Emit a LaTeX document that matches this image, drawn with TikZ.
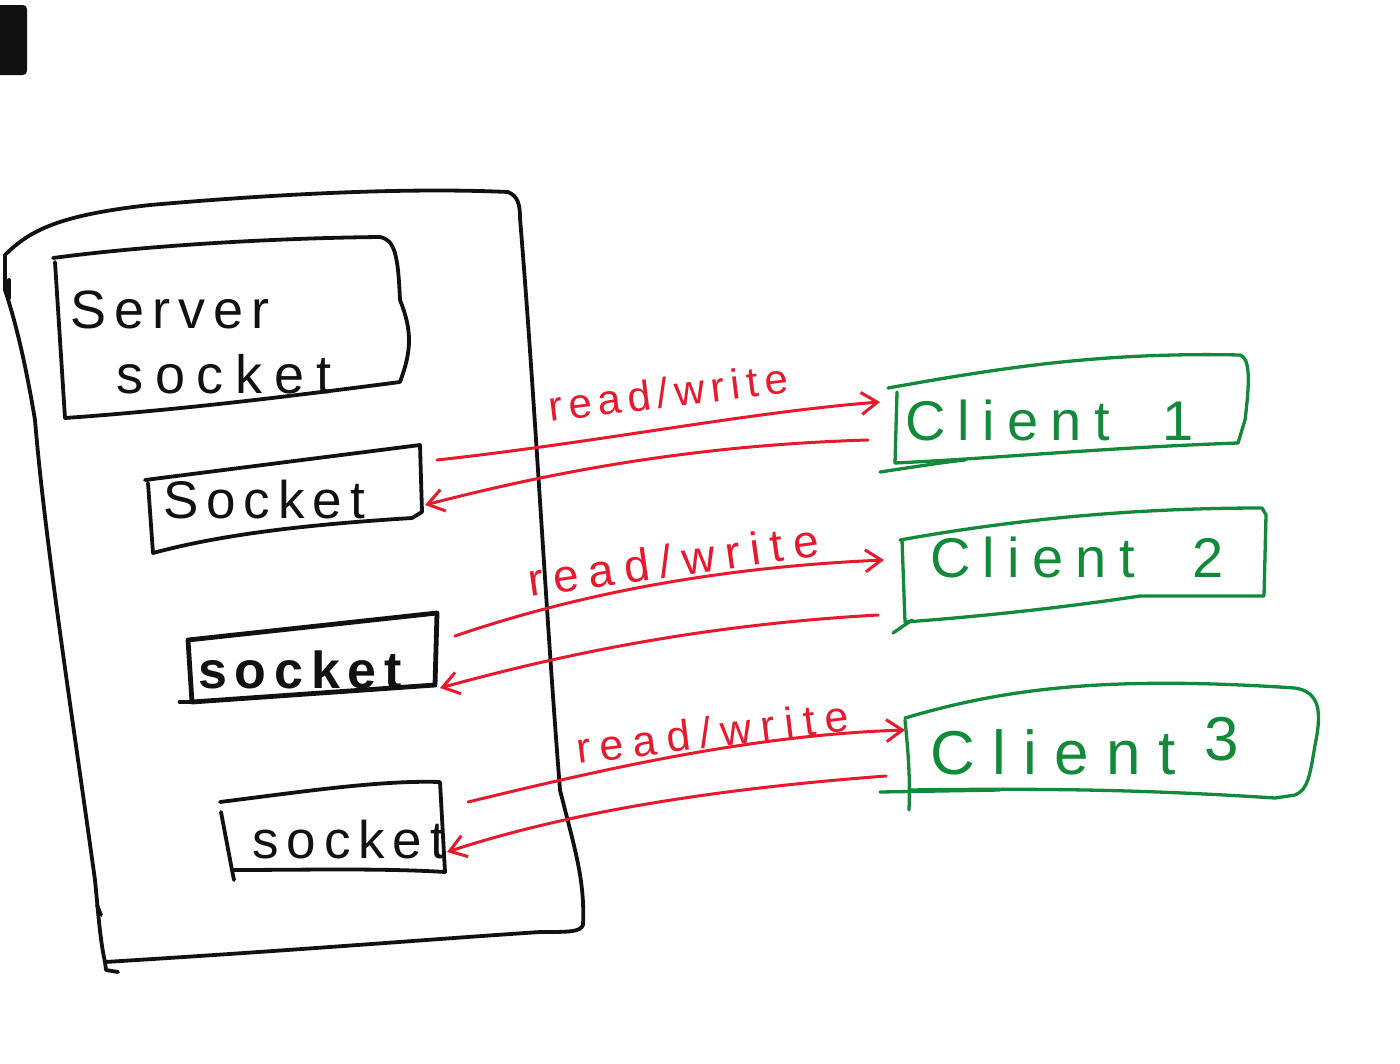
\documentclass[tikz,border=0pt]{standalone}
\usepackage{fontspec}
\setmainfont{Liberation Sans}
\newfontfamily\hand[LetterSpace=15]{Liberation Sans}
\newfontfamily\handwide[LetterSpace=22]{Liberation Sans}
\newfontfamily\handwider[LetterSpace=28]{Liberation Sans}
\usetikzlibrary{arrows.meta}
\definecolor{pen}{HTML}{111111}
\definecolor{redpen}{HTML}{E8192C}
\definecolor{greenpen}{HTML}{13893A}
\tikzset{
  blackline/.style={draw=pen, line width=3.8pt, line cap=round, line join=round},
  greenline/.style={draw=greenpen, line width=3.3pt, line cap=round, line join=round},
  redline/.style={draw=redpen, line width=3pt, line cap=round, line join=round,
     -{Straight Barb[length=16pt,width=22pt,line width=3pt]}},
  blacktext/.style={text=pen, inner sep=0pt, anchor=base west},
  greentext/.style={text=greenpen, inner sep=0pt, anchor=base west},
  redtext/.style={text=redpen, inner sep=0pt, anchor=base west},
}
\begin{document}
\begin{tikzpicture}[x=1pt,y=-1pt]
\useasboundingbox (0,0) rectangle (1400,1063);
% corner black block
\fill[pen, rounded corners=4pt] (-6,5) rectangle (27,75);

% server outline
\draw[blackline] (5,255) .. controls (30,230) and (60,215) .. (150,205)
  .. controls (300,192) and (420,188) .. (508,192)
  .. controls (518,196) and (520,205) .. (520,218)
  .. controls (535,400) and (545,600) .. (560,790)
  .. controls (575,850) and (585,880) .. (583,925)
  .. controls (580,932) and (570,932) .. (540,932)
  .. controls (420,940) and (300,950) .. (105,962)
  .. controls (100,940) and (98,910) .. (95,880)
  .. controls (70,700) and (45,540) .. (35,420)
  .. controls (25,360) and (15,320) .. (5,290) -- cycle;
\draw[blackline] (105,962) -- (106,970) -- (118,972);
\draw[blackline] (9,280) -- (9,298);
\draw[blackline] (97,905) -- (101,915);

% server socket box
\draw[blackline] (55,262) -- (65,418);
\draw[blackline] (53,258) .. controls (150,245) and (280,238) .. (380,237)
  .. controls (395,240) and (398,255) .. (400,300)
  .. controls (412,330) and (412,350) .. (400,382)
  .. controls (300,395) and (180,410) .. (65,418);
\node[blacktext, font=\hand\fontsize{54}{60}\selectfont] (srvtxt) at (70,328) {Server};
\node[blacktext, font=\handwide\fontsize{54}{60}\selectfont] (socktxt) at (116,393) {socket};

% socket 1
\draw[blackline] (145,480) -- (420,445) -- (422,512) -- (412,518)
  .. controls (300,525) and (220,535) .. (153,553) -- (148,483);
\node[blacktext, font=\hand\fontsize{53}{60}\selectfont] (s1txt) at (163,518) {Socket};

% socket 2 (thicker)
\draw[blackline, line width=4.8pt] (188,640) -- (437,613) -- (435,685)
  -- (192,702) -- (188,640);
\draw[blackline, line width=4.8pt] (180,702) -- (192,702);
\node[blacktext, font=\hand\bfseries\fontsize{52}{60}\selectfont] (s2txt) at (198,688) {socket};

% socket 3
\draw[blackline] (220,802) .. controls (300,792) and (380,780) .. (440,782)
  -- (445,872) .. controls (380,868) and (300,870) .. (232,870)
  -- (221,812);
\draw[blackline] (232,870) -- (234,880);
\node[blacktext, font=\hand\fontsize{53}{60}\selectfont] (s3txt) at (252,858) {socket};

% client 1
\draw[greenline] (888,388) .. controls (1000,368) and (1100,352) .. (1240,355)
  .. controls (1250,358) and (1250,380) .. (1245,420)
  -- (1238,443) .. controls (1100,448) and (1000,458) .. (895,463)
  -- (897,392);
\draw[greenline] (880,472) .. controls (920,466) and (945,462) .. (965,460);
\node[greentext, font=\handwide\fontsize{56}{60}\selectfont] (c1) at (905,440) {Client};
\node[greentext, font=\handwide\fontsize{56}{60}\selectfont] (c1n) at (1162,440) {1};

% client 2
\draw[greenline] (900,540) .. controls (1000,522) and (1120,508) .. (1262,508)
  -- (1266,515) -- (1264,596)
  -- (1140,596) .. controls (1080,605) and (1000,615) .. (905,622)
  -- (902,540);
\draw[greenline] (893,633) -- (912,620);
\node[greentext, font=\handwide\fontsize{56}{60}\selectfont] (c2) at (930,577) {Client};
\node[greentext, font=\handwide\fontsize{56}{60}\selectfont] (c2n) at (1192,577) {2};

% client 3
\draw[greenline] (905,718) .. controls (1000,690) and (1100,675) .. (1295,688)
  .. controls (1320,692) and (1322,712) .. (1315,745)
  .. controls (1310,775) and (1308,790) .. (1295,795)
  -- (1275,798) .. controls (1150,790) and (1050,788) .. (910,790);
\draw[greenline] (905,720) .. controls (909,760) and (910,780) .. (909,810);
\draw[greenline] (880,792) -- (1000,790);
\node[greentext, font=\handwider\fontsize{62}{66}\selectfont] (c3) at (930,774) {Client};
\node[greentext, font=\handwider\fontsize{62}{66}\selectfont] (c3n) at (1204,760) {3};

% connection end points
\coordinate (a1s) at (437,460);
\coordinate (a1e) at (880,402);
\coordinate (b1s) at (868,440);
\coordinate (b1e) at (425,505);
\coordinate (a2s) at (455,636);
\coordinate (a2e) at (884,560);
\coordinate (b2s) at (878,615);
\coordinate (b2e) at (440,688);
\coordinate (a3s) at (468,802);
\coordinate (a3e) at (905,730);
\coordinate (b3s) at (886,776);
\coordinate (b3e) at (447,852);

% red arrows
\draw[redline] (a1s) .. controls (600,442) and (750,412) .. (a1e);
\draw[redline] (b1s) .. controls (700,445) and (560,470) .. (b1e);
\draw[redline] (a2s) .. controls (560,600) and (700,568) .. (a2e);
\draw[redline] (b2s) .. controls (700,625) and (560,655) .. (b2e);
\draw[redline] (a3s) .. controls (600,770) and (750,735) .. (a3e);
\draw[redline] (b3s) .. controls (700,790) and (560,815) .. (b3e);

% labels
\node[redtext, rotate=7, font=\hand\fontsize{42}{44}\selectfont] (l1) at (550,422) {read/write};
\node[redtext, rotate=8, font=\handwide\fontsize{46}{48}\selectfont] (l2) at (530,597) {read/write};
\node[redtext, rotate=7, font=\handwide\fontsize{43}{46}\selectfont] (l3) at (578,764) {read/write};
\end{tikzpicture}
\end{document}
